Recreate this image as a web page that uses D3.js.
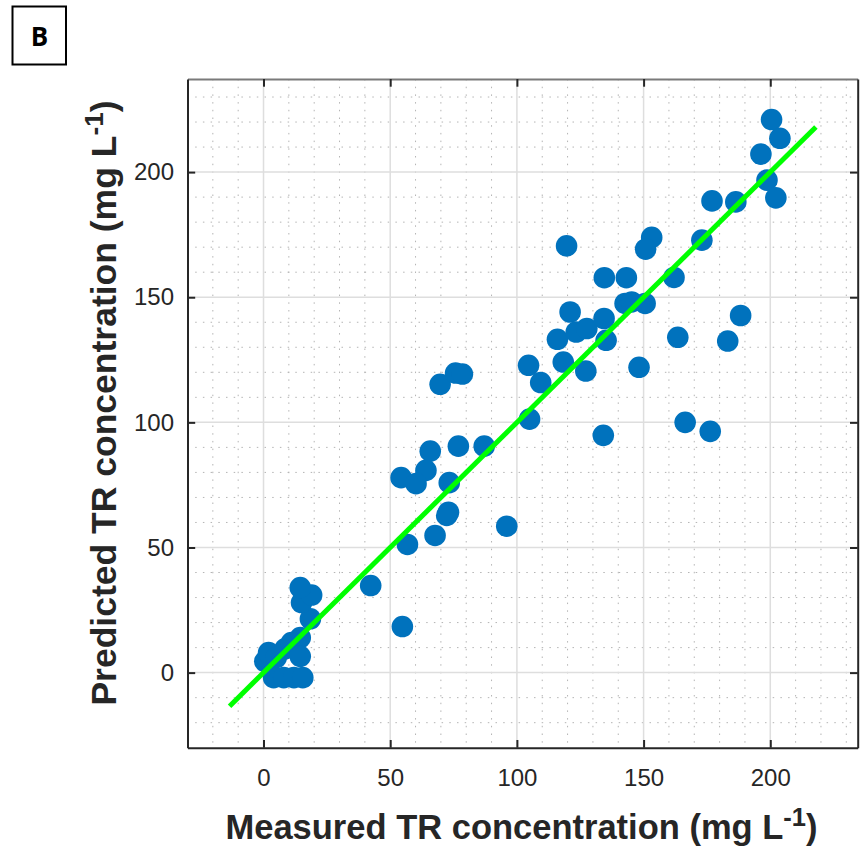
<!DOCTYPE html>
<html>
<head>
<meta charset="utf-8">
<script src="https://cdn.jsdelivr.net/npm/d3@7"></script>
<style>
  html, body { margin: 0; padding: 0; background: #fff; }
  svg { display: block; }
</style>
</head>
<body>
<svg id="chart" width="867" height="853"></svg>
<script>
// ---- Data ----
const measured = [
  200.5, 203.8, 196.3, 198.7, 202.2, 177.0, 186.4, 173.0, 153.2, 150.8,
  119.6, 134.5, 143.2, 162.0, 121.0, 116.0, 123.4, 127.6, 134.4, 135.2,
  142.7, 145.3, 150.6, 104.6, 109.4, 118.3, 127.2, 148.2, 163.5, 188.3,
  183.2, 105.0, 134.1, 166.4, 176.3, 69.7, 75.8, 78.5, 65.8, 76.9,
  87.1, 64.1, 54.3, 60.2, 73.3, 73.0, 72.3, 67.7, 56.8, 96.0,
  42.3, 54.8,
  0.5, 2.0, 5.0, 8.5, 11.0, 14.5, 14.5, 4.0, 8.0, 12.0, 15.5, 18.5, 15.0, 19.0, 14.5
];
const predicted = [
  221.0, 213.5, 207.2, 196.8, 189.7, 188.5, 188.1, 172.8, 173.9, 169.2,
  170.5, 157.8, 157.8, 157.9, 144.1, 133.2, 136.1, 137.5, 141.5, 132.8,
  147.5, 148.1, 147.5, 122.8, 115.9, 124.1, 120.5, 122.0, 134.0, 142.7,
  132.5, 101.3, 94.8, 100.0, 96.4, 115.2, 119.7, 119.3, 88.5, 90.5,
  90.5, 80.8, 77.9, 75.5, 75.9, 64.1, 62.8, 54.8, 51.2, 58.5,
  34.8, 18.4,
  4.5, 8.0, 6.0, 9.5, 12.0, 14.0, 6.5, -2.0, -2.0, -2.0, -2.0, 21.5, 28.0, 31.0, 34.0
];
const fitX = [-13.4, 218];
const fitY = [-13.4, 218];
const xTicks = [0, 50, 100, 150, 200];
const yTicks = [0, 50, 100, 150, 200];
const xMinor = [-20, -10, 10, 20, 30, 40, 60, 70, 80, 90, 110, 120, 130, 140, 160, 170, 180, 190, 210, 220, 230];
const yMinor = [-20, -10, 10, 20, 30, 40, 60, 70, 80, 90, 110, 120, 130, 140, 160, 170, 180, 190, 210, 220, 230];
const xDomain = [-30, 234.5];
const yDomain = [-30, 237.2];
const panelLabel = "B";

// ---- Layout ----
const L = 187.5, R = 857.7, T = 79, B = 747.7;
const svg = d3.select("#chart");
svg.append("rect").attr("width", 867).attr("height", 853).attr("fill", "#fff");

const x = d3.scaleLinear().domain(xDomain).range([L, R]);
const y = d3.scaleLinear().domain(yDomain).range([B, T]);

const font = "'Liberation Sans', Arial, Helvetica, sans-serif";

// minor grid (dotted)
const grid = svg.append("g");
grid.selectAll(".vminor").data(xMinor).enter().append("line")
  .attr("x1", d => x(d)).attr("x2", d => x(d)).attr("y1", T).attr("y2", B)
  .attr("stroke", "#b4b4b4").attr("stroke-width", 1).attr("stroke-dasharray", "1.5,6.2");
grid.selectAll(".hminor").data(yMinor).enter().append("line")
  .attr("y1", d => y(d)).attr("y2", d => y(d)).attr("x1", L).attr("x2", R)
  .attr("stroke", "#b4b4b4").attr("stroke-width", 1).attr("stroke-dasharray", "1.5,6.2");
// major grid (solid light)
grid.selectAll(".vmajor").data(xTicks).enter().append("line")
  .attr("x1", d => x(d)).attr("x2", d => x(d)).attr("y1", T).attr("y2", B)
  .attr("stroke", "#dedede").attr("stroke-width", 1.5);
grid.selectAll(".hmajor").data(yTicks).enter().append("line")
  .attr("y1", d => y(d)).attr("y2", d => y(d)).attr("x1", L).attr("x2", R)
  .attr("stroke", "#dedede").attr("stroke-width", 1.5);

// points
svg.append("g").selectAll("circle").data(measured.map((m, i) => [m, predicted[i]]))
  .enter().append("circle")
  .attr("cx", d => x(d[0])).attr("cy", d => y(d[1])).attr("r", 10.8)
  .attr("fill", "#0072BD");

// fit line
svg.append("path")
  .datum(fitX.map((v, i) => [v, fitY[i]]))
  .attr("d", d3.line().x(d => x(d[0])).y(d => y(d[1])))
  .attr("stroke", "#00ff00").attr("stroke-width", 5).attr("fill", "none");

// axes
const tk = 7.7;
function styleAxis(g, color) {
  g.select(".domain").attr("stroke", color).attr("stroke-width", 2);
  g.selectAll(".tick line").attr("stroke", "#262626").attr("stroke-width", 2);
  g.selectAll(".tick text").attr("fill", "#262626").style("font-family", font).style("font-size", "24px");
}
const gx = svg.append("g").attr("transform", `translate(0,${B})`)
  .call(d3.axisBottom(x).tickValues(xTicks).tickSize(-tk).tickSizeOuter(0).tickPadding(21));
styleAxis(gx, "#262626");
const gxt = svg.append("g").attr("transform", `translate(0,${T})`)
  .call(d3.axisTop(x).tickValues(xTicks).tickSize(-tk).tickSizeOuter(0).tickFormat(""));
styleAxis(gxt, "#7a7a7a");
const gy = svg.append("g").attr("transform", `translate(${L},0)`)
  .call(d3.axisLeft(y).tickValues(yTicks).tickSize(-tk).tickSizeOuter(0).tickPadding(13.5));
styleAxis(gy, "#262626");
const gyr = svg.append("g").attr("transform", `translate(${R},0)`)
  .call(d3.axisRight(y).tickValues(yTicks).tickSize(-tk).tickSizeOuter(0).tickFormat(""));
styleAxis(gyr, "#262626");

// axis labels
function addLabel(sel, main) {
  sel.append("tspan").text(main);
  sel.append("tspan").attr("dy", "-0.5em").attr("font-size", "0.74em").text("-1");
  sel.append("tspan").attr("dy", "0.37em").text(")");
}
const xl = svg.append("text").attr("x", 521.5).attr("y", 838.5)
  .attr("text-anchor", "middle").attr("fill", "#262626")
  .style("font-family", font).style("font-size", "34.5px").style("font-weight", "bold");
addLabel(xl, "Measured TR concentration (mg L");

const yl = svg.append("text").attr("transform", `translate(116,403) rotate(-90)`)
  .attr("text-anchor", "middle").attr("fill", "#262626")
  .style("font-family", font).style("font-size", "35.5px").style("font-weight", "bold");
addLabel(yl, "Predicted TR concentration (mg L");

// panel label
svg.append("rect").attr("x", 12.5).attr("y", 6.5).attr("width", 53.5).attr("height", 58)
  .attr("fill", "#fff").attr("stroke", "#000").attr("stroke-width", 2);
svg.append("text").attr("x", 39.5).attr("y", 45.5).attr("text-anchor", "middle")
  .style("font-family", "'Open Sans', 'Liberation Sans', Arial, sans-serif")
  .style("font-size", "26px").style("font-weight", "bold").attr("fill", "#000").text(panelLabel);
</script>
</body>
</html>
